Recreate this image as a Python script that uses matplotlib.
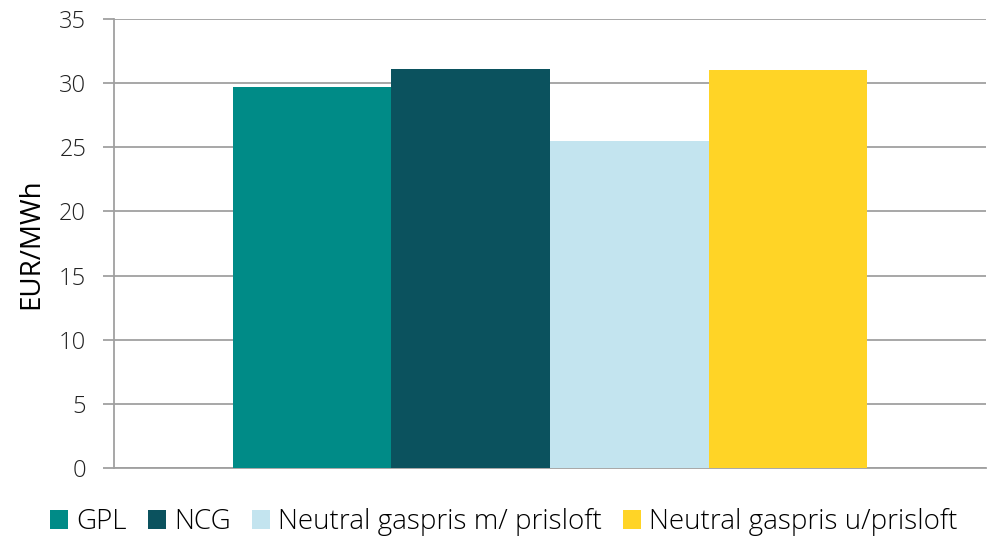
import matplotlib
matplotlib.use('Agg')
import matplotlib.pyplot as plt
import numpy as np

plt.rcParams['font.family'] = ['Open Sans', 'DejaVu Sans']
plt.rcParams['font.weight'] = 'light'

series = ['GPL', 'NCG', 'Neutral gaspris m/ prisloft', 'Neutral gaspris u/prisloft']
values = [29.7, 31.1, 25.5, 31.05]
colors = ['#008B87', '#0B525E', '#C3E4EF', '#FFD426']
yticks = [0, 5, 10, 15, 20, 25, 30, 35]

fig = plt.figure(figsize=(9.89, 5.4), dpi=100)
ax = fig.add_axes([114/989, 1-468/540, (986-114)/989, (468-19)/540])

width = 0.1818
offsets = (np.arange(len(values)) - 1.5) * width
for i in range(len(values)):
	ax.bar(offsets[i], values[i], width=width, color=colors[i], label=series[i], zorder=3)

ax.set_xlim(-0.5, 0.5)
ax.set_ylim(0, 35)
ax.set_yticks(yticks)
ax.set_xticks([])
ax.grid(axis='y', color='#A0A0A0', linewidth=1.3, zorder=0)
for s in ['top', 'right']:
	ax.spines[s].set_visible(False)
ax.spines['left'].set_color('#A0A0A0')
ax.spines['left'].set_linewidth(1.3)
ax.spines['bottom'].set_color('#A0A0A0')
ax.spines['bottom'].set_linewidth(1.3)
ax.tick_params(axis='y', length=8, width=1.3, color='#A0A0A0', labelsize=17, labelcolor='#222222', pad=12)
ax.set_ylabel('EUR/MWh', fontsize=20, color='#000000', labelpad=10, fontweight='normal')

fig.legend(loc='center', bbox_to_anchor=(504/989, 1-522/540), ncol=4, frameon=False,
	fontsize=20, handlelength=0.65, handleheight=0.65, handletextpad=0.3, columnspacing=0.75,
	borderaxespad=0)

fig.savefig('out.png', dpi=100)
